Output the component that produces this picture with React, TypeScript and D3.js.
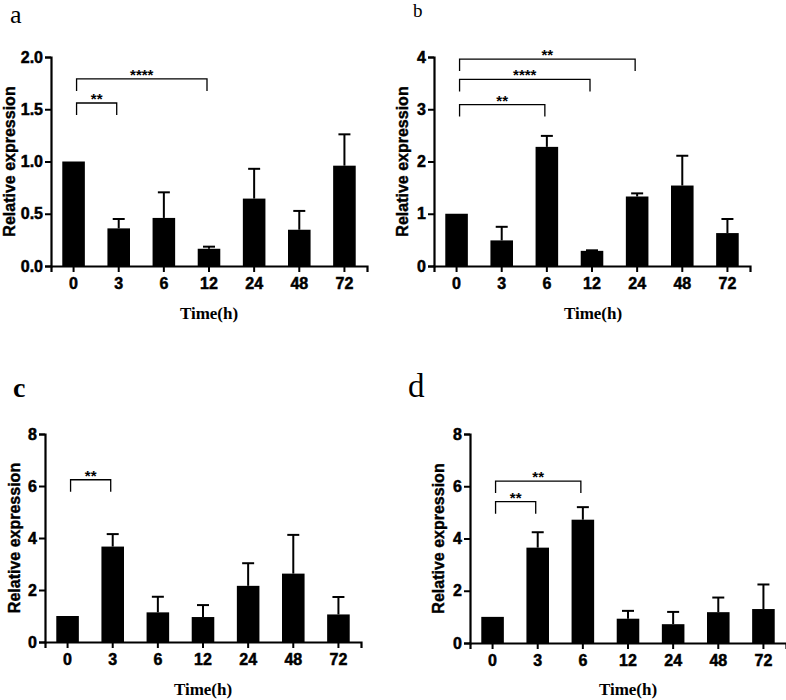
import React, { useEffect, useRef } from 'react';
import * as d3 from 'd3';

// time points (h)
const times = ['0', '3', '6', '12', '24', '48', '72'];

// panel a
const meanA = [1.0, 0.36, 0.46, 0.165, 0.645, 0.347, 0.96];
const errA = [0, 0.09, 0.245, 0.02, 0.285, 0.18, 0.3];
const ticksA = [0, 0.5, 1.0, 1.5, 2.0];
const sigA = [
  { from: '0', to: '3', y: 1.56, label: '**' },
  { from: '0', to: '12', y: 1.79, label: '****' },
];

// panel b
const meanB = [1.0, 0.49, 2.28, 0.29, 1.33, 1.54, 0.63];
const errB = [0, 0.26, 0.21, 0.01, 0.06, 0.57, 0.27];
const ticksB = [0, 1, 2, 3, 4];
const sigB = [
  { from: '0', to: '6', y: 3.09, label: '**' },
  { from: '0', to: '12', y: 3.57, label: '****' },
  { from: '0', to: '24', y: 3.96, label: '**' },
];

// panel c
const meanC = [1.0, 3.67, 1.14, 0.96, 2.16, 2.63, 1.06];
const errC = [0, 0.48, 0.6, 0.46, 0.87, 1.49, 0.67];
const ticksC = [0, 2, 4, 6, 8];
const sigC = [{ from: '0', to: '3', y: 6.24, label: '**' }];

// panel d
const meanD = [1.0, 3.65, 4.72, 0.93, 0.72, 1.18, 1.3];
const errD = [0, 0.59, 0.48, 0.3, 0.47, 0.56, 0.94];
const ticksD = [0, 2, 4, 6, 8];
const sigD = [
  { from: '0', to: '3', y: 5.41, label: '**' },
  { from: '0', to: '6', y: 6.2, label: '**' },
];

interface Sig { from: string; to: string; y: number; label: string }

interface PanelSpec {
  letter: string;
  letterX: number;
  letterY: number;
  letterSize: number;
  letterWeight: string;
  axisX: number;
  top: number;
  bottom: number;
  yMax: number;
  ticks: number[];
  fmt: string;
  means: number[];
  errs: number[];
  sigs: Sig[];
  yLabelX: number;
  titleX: number;
  titleY: number;
}

const panels: PanelSpec[] = [
  { letter: 'a', letterX: 10, letterY: 23, letterSize: 26, letterWeight: 'normal', axisX: 51, top: 57, bottom: 266, yMax: 2, ticks: ticksA, fmt: '.1f', means: meanA, errs: errA, sigs: sigA, yLabelX: 15, titleX: 209, titleY: 319 },
  { letter: 'b', letterX: 413, letterY: 17, letterSize: 19, letterWeight: 'normal', axisX: 434, top: 57, bottom: 266, yMax: 4, ticks: ticksB, fmt: 'd', means: meanB, errs: errB, sigs: sigB, yLabelX: 408, titleX: 593, titleY: 319 },
  { letter: 'c', letterX: 13, letterY: 397, letterSize: 28, letterWeight: 'bold', axisX: 45, top: 434, bottom: 642, yMax: 8, ticks: ticksC, fmt: 'd', means: meanC, errs: errC, sigs: sigC, yLabelX: 20, titleX: 203, titleY: 695 },
  { letter: 'd', letterX: 408, letterY: 397, letterSize: 33, letterWeight: 'normal', axisX: 470, top: 434, bottom: 643, yMax: 8, ticks: ticksD, fmt: 'd', means: meanD, errs: errD, sigs: sigD, yLabelX: 444, titleX: 628, titleY: 695 },
];

const SANS = '"Liberation Sans", Arial, sans-serif';
const SERIF = '"Liberation Serif", "Times New Roman", serif';

const App: React.FC = () => {
  const ref = useRef<SVGSVGElement | null>(null);

  useEffect(() => {
    const svg = d3.select(ref.current);
    svg.selectAll('*').remove();

    panels.forEach(p => {
      const g = svg.append('g');
      const x = d3.scaleBand<string>()
        .domain(times)
        .range([p.axisX, p.axisX + 316])
        .paddingInner(0.5)
        .paddingOuter(0.25);
      const y = d3.scaleLinear().domain([0, p.yMax]).range([p.bottom, p.top]);

      // bars
      g.selectAll('rect.bar')
        .data(p.means)
        .enter()
        .append('rect')
        .attr('class', 'bar')
        .attr('x', (d, i) => x(times[i])!)
        .attr('width', x.bandwidth())
        .attr('y', d => y(d))
        .attr('height', d => p.bottom - y(d))
        .attr('fill', '#000');

      // error bars (upper only)
      p.means.forEach((m, i) => {
        const e = p.errs[i];
        if (e <= 0) return;
        const cx = x(times[i])! + x.bandwidth() / 2;
        g.append('line')
          .attr('x1', cx).attr('x2', cx)
          .attr('y1', y(m)).attr('y2', y(m + e))
          .attr('stroke', '#000').attr('stroke-width', 2);
        g.append('line')
          .attr('x1', cx - 6).attr('x2', cx + 6)
          .attr('y1', y(m + e)).attr('y2', y(m + e))
          .attr('stroke', '#000').attr('stroke-width', 2);
      });

      // y axis
      const yAxis = g.append('g')
        .attr('transform', `translate(${p.axisX},0)`)
        .call(d3.axisLeft(y).tickValues(p.ticks).tickFormat(d3.format(p.fmt)).tickSizeOuter(0).tickSize(6).tickPadding(2));
      yAxis.select('.domain').attr('stroke-width', 2.2);
      yAxis.selectAll('.tick line').attr('stroke-width', 2);
      yAxis.selectAll('.tick text')
        .attr('font-family', SANS).attr('font-weight', 'bold').attr('font-size', 16).attr('fill', '#000')
        .attr('stroke', '#000').attr('stroke-width', 0.5);

      // x axis
      const xAxis = g.append('g')
        .attr('transform', `translate(0,${p.bottom})`)
        .call(d3.axisBottom(x).tickSizeOuter(0).tickSize(6).tickPadding(6));
      xAxis.select('.domain').attr('stroke-width', 2.2);
      xAxis.selectAll('.tick line').attr('stroke-width', 2);
      xAxis.selectAll('.tick text')
        .attr('font-family', SANS).attr('font-weight', 'bold').attr('font-size', 16).attr('fill', '#000')
        .attr('stroke', '#000').attr('stroke-width', 0.5);

      // significance brackets
      p.sigs.forEach(s => {
        const x1 = x(s.from)! + x.bandwidth() / 2 + 3;
        const x2 = x(s.to)! + x.bandwidth() / 2 - 2;
        const yy = y(s.y);
        g.append('path')
          .attr('d', `M${x1},${yy + 12}V${yy}H${x2}V${yy + 12}`)
          .attr('fill', 'none').attr('stroke', '#000').attr('stroke-width', 1.3);
        g.append('text')
          .attr('x', (x1 + x2) / 2)
          .attr('y', yy + 1)
          .attr('text-anchor', 'middle')
          .attr('font-family', SANS).attr('font-weight', 'bold').attr('font-size', 15)
          .text(s.label);
      });

      // axis titles
      g.append('text')
        .attr('transform', `translate(${p.yLabelX},${(p.top + p.bottom) / 2}) rotate(-90)`)
        .attr('text-anchor', 'middle')
        .attr('font-family', SANS).attr('font-weight', 'bold').attr('font-size', 16)
        .attr('stroke', '#000').attr('stroke-width', 0.4)
        .text('Relative expression');
      g.append('text')
        .attr('x', p.titleX).attr('y', p.titleY)
        .attr('text-anchor', 'middle')
        .attr('font-family', SERIF).attr('font-weight', 'bold').attr('font-size', 17)
        .text('Time(h)');

      // panel letter
      g.append('text')
        .attr('x', p.letterX).attr('y', p.letterY)
        .attr('font-family', SERIF).attr('font-weight', p.letterWeight).attr('font-size', p.letterSize)
        .text(p.letter);
    });
  }, []);

  return (
    <svg
      ref={ref}
      width={786}
      height={700}
      style={{ position: 'absolute', left: 0, top: 0, background: '#fff' }}
    />
  );
};

export default App;
